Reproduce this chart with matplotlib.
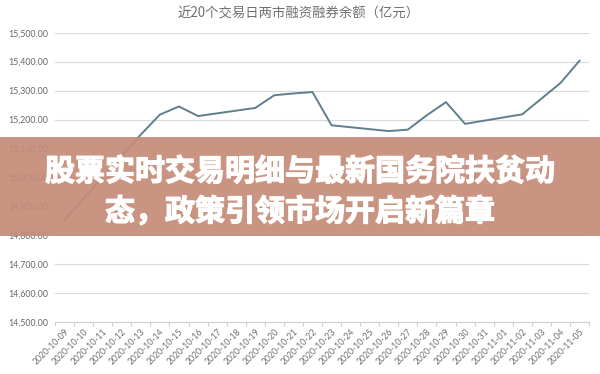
import matplotlib
matplotlib.use("Agg")
import matplotlib.pyplot as plt
import matplotlib.patheffects as pe
from matplotlib.patches import Rectangle
from matplotlib.ticker import FuncFormatter, FixedLocator

# Calendar axis labels (every day, as on a date axis)
axis_dates = [
    "2020-10-09", "2020-10-10", "2020-10-11", "2020-10-12", "2020-10-13",
    "2020-10-14", "2020-10-15", "2020-10-16", "2020-10-17", "2020-10-18",
    "2020-10-19", "2020-10-20", "2020-10-21", "2020-10-22", "2020-10-23",
    "2020-10-24", "2020-10-25", "2020-10-26", "2020-10-27", "2020-10-28",
    "2020-10-29", "2020-10-30", "2020-10-31", "2020-11-01", "2020-11-02",
    "2020-11-03", "2020-11-04", "2020-11-05",
]

# Trading days and margin balance (亿元)
trade_dates = [
    "2020-10-09", "2020-10-12", "2020-10-13", "2020-10-14", "2020-10-15",
    "2020-10-16", "2020-10-19", "2020-10-20", "2020-10-21", "2020-10-22",
    "2020-10-23", "2020-10-26", "2020-10-27", "2020-10-28", "2020-10-29",
    "2020-10-30", "2020-11-02", "2020-11-03", "2020-11-04", "2020-11-05",
]
balance = [
    14853, 15075, 15148, 15217, 15245,
    15212, 15240, 15284, 15290, 15295,
    15180, 15160, 15165, 15215, 15260,
    15185, 15218, 15272, 15326, 15403,
]

y_ticks = [14500, 14600, 14700, 14800, 14900, 15000, 15100, 15200, 15300, 15400, 15500]

title_text = "近20个交易日两市融资融券余额（亿元）"
headline_1 = "股票实时交易明细与最新国务院扶贫动"
headline_2 = "态，政策引领市场开启新篇章"

plt.rcParams["font.family"] = ["Lato", "Noto Sans CJK SC", "DejaVu Sans"]

fig = plt.figure(figsize=(6.0, 3.74), dpi=100)
fig.patch.set_facecolor("white")

ax = fig.add_axes([0.0917, 0.139, 0.89, 0.7735])
x_pos = [axis_dates.index(d) for d in trade_dates]
ax.plot(x_pos, balance, color="#5E7F8C", lw=1.4, solid_joinstyle="miter", zorder=3)

ax.set_xlim(-0.5, len(axis_dates) - 0.5)
ax.set_ylim(y_ticks[0], y_ticks[-1])
ax.yaxis.set_major_locator(FixedLocator(y_ticks))
ax.yaxis.set_major_formatter(FuncFormatter(lambda v, p: f"{v:,.2f}"))
ax.grid(axis="y", color="#D9D9D9", lw=0.8)
ax.set_axisbelow(True)

ax.set_xticks(range(len(axis_dates)))
ax.set_xticklabels(axis_dates, rotation=45, ha="right", va="top",
                   rotation_mode="anchor", fontsize=6.2, color="#707070")
ax.tick_params(axis="x", which="major", length=0, pad=4)
ax.set_xticks([i - 0.5 for i in range(len(axis_dates) + 1)], minor=True)
ax.tick_params(axis="x", which="minor", length=3, color="#D0D0D0", width=0.8)
ax.tick_params(axis="y", length=0, labelsize=6.3, labelcolor="#666666", pad=5)

for side in ("top", "right", "left"):
    ax.spines[side].set_visible(False)
ax.spines["bottom"].set_color("#D0D0D0")
ax.spines["bottom"].set_linewidth(0.8)

fig.text(0.497, 0.963, title_text, ha="center", va="center", fontsize=9.6,
         color="#707070", family=["Noto Sans CJK SC", "DejaVu Sans"])

# Headline banner across the middle of the chart
banner = Rectangle((0, 0.369), 1, 0.265, transform=fig.transFigure,
                   facecolor="#C58C79", alpha=0.93, edgecolor="none", zorder=10)
fig.patches.append(banner)

bold_fx = [pe.withStroke(linewidth=0.9, foreground="white")]
fig.text(0.5, 0.541, headline_1, ha="center", va="center", fontsize=21.6,
         fontweight="heavy", color="white", zorder=11, path_effects=bold_fx,
         family=["Noto Sans CJK SC", "DejaVu Sans"])
fig.text(0.5, 0.434, headline_2, ha="center", va="center", fontsize=21.6,
         fontweight="heavy", color="white", zorder=11, path_effects=bold_fx,
         family=["Noto Sans CJK SC", "DejaVu Sans"])

fig.savefig("out.png", dpi=100, facecolor="white")
